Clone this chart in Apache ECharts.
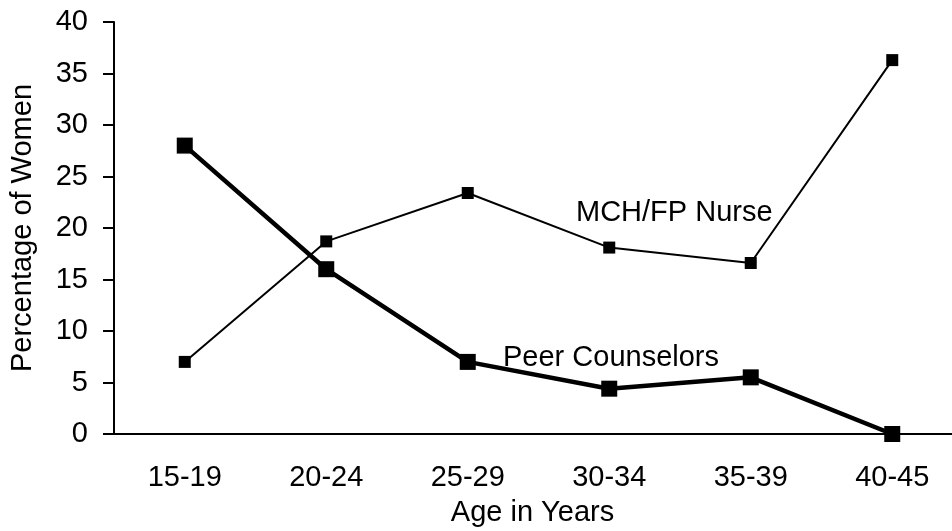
<!DOCTYPE html>
<html>
<head>
<meta charset="utf-8">
<script src="https://cdn.jsdelivr.net/npm/echarts@6/dist/echarts.min.js"></script>
<style>
  html, body { margin: 0; padding: 0; background: #fff; }
  #chart { width: 952px; height: 531px; }
</style>
</head>
<body>
<div id="chart"></div>
<script>
// age groups and values
const ageGroups = ['15-19', '20-24', '25-29', '30-34', '35-39', '40-45'];
const nurse = [7.0, 18.7, 23.4, 18.1, 16.6, 36.3];
const peer = [28.0, 16.0, 7.0, 4.4, 5.5, 0];
const yTicks = { min: 0, max: 40, interval: 5 };

const font = 'Liberation Sans, Arial, sans-serif';
const fs = 29;

let myChart = echarts.init(document.getElementById('chart'));

myChart.setOption({
  animation: false,
  backgroundColor: '#fff',
  textStyle: { fontFamily: font },
  grid: { left: 114, right: -11, top: 22, bottom: 97, containLabel: false, outerBoundsMode: 'none' },
  xAxis: {
    type: 'category',
    data: ageGroups,
    boundaryGap: true,
    axisLine: { lineStyle: { color: '#000', width: 2 } },
    axisTick: { show: false },
    axisLabel: { color: '#000', fontSize: fs, margin: 29, fontFamily: font },
    name: 'Age in Years',
    nameLocation: 'middle',
    nameGap: 64,
    nameTextStyle: { color: '#000', fontSize: fs, fontFamily: font, padding: [0, 12, 0, 0] }
  },
  yAxis: {
    type: 'value',
    min: yTicks.min,
    max: yTicks.max,
    interval: yTicks.interval,
    splitLine: { show: false },
    axisLine: { show: true, lineStyle: { color: '#000', width: 2 } },
    axisTick: { show: true, length: 11, lineStyle: { color: '#000', width: 2 } },
    axisLabel: { color: '#000', fontSize: fs, margin: 26, fontFamily: font },
    name: 'Percentage of Women',
    nameLocation: 'middle',
    nameRotate: 90,
    nameGap: 77,
    nameTextStyle: { color: '#000', fontSize: fs, fontFamily: font }
  },
  series: [
    {
      name: 'MCH/FP Nurse',
      type: 'line',
      data: nurse,
      symbol: 'rect',
      symbolSize: 12,
      itemStyle: { color: '#000' },
      lineStyle: { color: '#000', width: 2 },
      z: 3
    },
    {
      name: 'Peer Counselors',
      type: 'line',
      data: peer,
      symbol: 'rect',
      symbolSize: 16,
      itemStyle: { color: '#000' },
      lineStyle: { color: '#000', width: 4.5 },
      z: 4
    }
  ],
  graphic: [
    {
      type: 'text', left: 576, top: 198,
      style: { text: 'MCH/FP Nurse', fontSize: fs, fontFamily: font, fill: '#000' }
    },
    {
      type: 'text', left: 503, top: 343,
      style: { text: 'Peer Counselors', fontSize: fs, fontFamily: font, fill: '#000' }
    }
  ]
});
</script>
</body>
</html>
